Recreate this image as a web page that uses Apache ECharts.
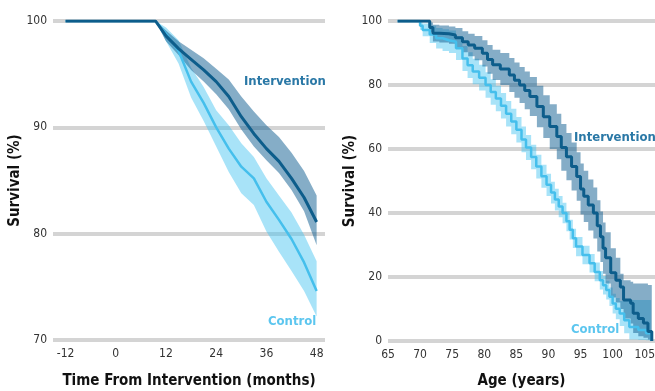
<!DOCTYPE html>
<html><head><meta charset="utf-8">
<script src="https://cdn.jsdelivr.net/npm/echarts@6/dist/echarts.min.js"></script>
<style>html,body{margin:0;padding:0;background:#fff}#c{width:655px;height:391px}</style>
</head><body><div id="c"></div>
<script>
// ---------- Left panel: time from intervention (months) ----------
var leftMonths = [-12, 0, 9.5, 12, 15, 18, 21, 24, 27, 30, 33, 36, 39, 42, 45, 48];
var leftInt    = [100, 100, 100, 98.6, 97.4, 96.4, 95.4, 94.3, 92.9, 91.0, 89.4, 88.0, 86.8, 85.2, 83.4, 81.1];
var leftIntLo  = [100, 100, 100, 98.1, 96.8, 95.4, 94.3, 93.1, 91.7, 89.8, 88.2, 86.9, 85.7, 84.1, 82.1, 78.9];
var leftIntHi  = [100, 100, 100, 99.1, 98.1, 97.3, 96.5, 95.5, 94.5, 92.9, 91.5, 90.2, 89.1, 87.6, 85.9, 83.6];
var leftCtl    = [100, 100, 100, 98.8, 97.2, 94.3, 92.3, 90.0, 88.0, 86.3, 85.2, 83.0, 81.3, 79.5, 77.3, 74.6];
var leftCtlLo  = [100, 100, 100, 98.1, 96.0, 92.8, 90.6, 88.2, 85.8, 83.8, 82.7, 80.2, 78.3, 76.5, 74.6, 72.2];
var leftCtlHi  = [100, 100, 100, 99.4, 98.2, 95.6, 93.8, 91.6, 90.2, 88.5, 87.2, 85.2, 83.6, 82.0, 79.9, 77.4];
var leftXTicks = [-12, 0, 12, 24, 36, 48];

// ---------- Right panel: age (years) ----------
var ageInt   = [66.5, 71, 71.5, 72, 73, 74.5, 75.5, 76.6, 77.5, 78.5, 79.7, 80.5, 81.3, 82.5, 83.9, 84.7, 85.5, 86.3, 87.1, 88.2, 89.2, 90.2, 91.3, 92, 92.8, 93.6, 94.4, 95, 95.5, 96.2, 97, 97.6, 98.1, 98.5, 98.9, 99.7, 100.5, 101.2, 101.7, 102.8, 103.2, 104, 104.8, 105.5, 106.1];
var survInt  = [100, 100, 98, 96.2, 96, 95.6, 94.8, 93.5, 92.5, 91.5, 89.9, 88, 86.3, 85, 83.1, 81.5, 80, 78.3, 76.4, 73.3, 70.1, 67, 63.9, 60.5, 57.6, 54.5, 51.4, 47.5, 45.2, 42.5, 40, 36, 32.6, 29, 26, 21.3, 19, 16.9, 12.8, 11.8, 8.7, 7, 5.6, 3, 0];
var survIntLo = [100, 100, 96.5, 93.6, 93.3, 92.9, 91.8, 90.2, 89, 87.7, 85.8, 83.5, 81.6, 80, 77.8, 76, 74.4, 72.4, 70.3, 66.8, 63.4, 60, 56.8, 53.2, 50.2, 47, 43.8, 39.5, 37.2, 34.5, 32, 28, 24.7, 21, 18, 13.6, 12, 10, 7, 5.5, 2.5, 1.5, 1, 0.5, 0];
var survIntHi = [100, 100, 99.5, 98.8, 98.6, 98.3, 97.8, 96.8, 96, 95.3, 94, 92.5, 91, 90, 88.4, 87, 85.6, 84.2, 82.5, 79.8, 76.8, 74, 71, 67.8, 65, 62, 59, 55.5, 53.2, 50.5, 48, 44, 40.5, 37, 34, 29, 26, 21, 19, 18.5, 18, 18, 18, 17.5, 0];

var ageCtl   = [66.5, 69.6, 70, 70.4, 71.5, 72.5, 73.5, 74.5, 75.6, 76.6, 77.4, 78.2, 79.2, 80.2, 81, 81.8, 82.6, 83.4, 84.2, 85, 85.8, 86.5, 87.3, 88.1, 88.9, 89.7, 90.4, 91, 91.6, 92.2, 92.8, 93.3, 93.8, 94.3, 95.3, 96.4, 97.2, 98, 98.5, 99, 99.5, 100, 100.5, 101.1, 101.8, 102.6, 104, 105.2, 106];
var survCtl  = [100, 100, 98.5, 97.2, 95.8, 94.6, 94.0, 93.5, 91.5, 88.3, 86.2, 84.2, 82.3, 80.0, 77.8, 75.8, 73.5, 71.0, 68.6, 66, 63, 60.5, 57.5, 54.5, 51.5, 48.8, 46.4, 44.2, 42, 40, 37.4, 34.8, 32.1, 29.5, 26.9, 24.3, 21.6, 19, 17.4, 15.9, 13.8, 11.7, 10.1, 8.6, 6.5, 4.4, 3.4, 2.4, 0];
var survCtlLo = [100, 100, 97.3, 95.2, 93.1, 91.4, 90.6, 90.0, 87.8, 84.4, 82.2, 80.2, 78.3, 76.0, 73.8, 71.8, 69.5, 67.0, 64.6, 62, 59, 56.6, 53.7, 50.8, 47.9, 45.3, 43.0, 40.8, 38.7, 36.8, 34.3, 31.7, 29.1, 26.5, 24, 21.4, 18.7, 16.1, 14.5, 13, 10.9, 8.6, 6.8, 4.7, 2.4, 0.5, 0.3, 0.2, 0];
var survCtlHi = [100, 100, 99.6, 99.2, 98.5, 97.8, 97.4, 97.0, 95.2, 92.2, 90.2, 88.2, 86.3, 84.0, 81.8, 79.8, 77.5, 75.0, 72.6, 70, 67, 64.4, 61.3, 58.2, 55.1, 52.3, 49.8, 47.6, 45.3, 43.2, 40.5, 37.9, 35.1, 32.5, 29.8, 27.2, 24.5, 21.9, 20.3, 18.8, 16.7, 14.8, 13.4, 12.5, 12.6, 12.8, 12.8, 12.8, 0];
var ageXTicks = [65, 70, 75, 80, 85, 90, 95, 100, 105];

// ---------- styling ----------
var FONT = '"DejaVu Sans Condensed", "DejaVu Sans", sans-serif';
var DARK = '#0d5d8b', LIGHT = '#45bfec';
var DARK_BAND = 'rgba(22,98,148,0.52)', LIGHT_BAND = 'rgba(70,195,240,0.47)';

function pairs(xs, ys) { return xs.map(function (x, i) { return [x, ys[i]]; }); }

// confidence band as one polygon, positioned through the axis scales (api.coord)
function band(xi, yi, xs, lo, hi, color, step) {
  return {
    type: 'custom', xAxisIndex: xi, yAxisIndex: yi, silent: true, z: 1, clip: true,
    data: xs.map(function (x, i) { return [x, lo[i], hi[i]]; }),
    encode: { x: 0, y: [1, 2] },
    renderItem: function (params, api) {
      if (params.dataIndex !== 0) return null;
      var n = xs.length, top = [], bot = [];
      for (var i = 0; i < n; i++) {
        if (step && i > 0) {
          top.push(api.coord([xs[i], hi[i - 1]]));
          bot.push(api.coord([xs[i], lo[i - 1]]));
        }
        top.push(api.coord([xs[i], hi[i]]));
        bot.push(api.coord([xs[i], lo[i]]));
      }
      var pts = top.concat(bot.reverse());
      return { type: 'polygon', shape: { points: pts }, style: { fill: color } };
    }
  };
}
function line(xi, yi, xs, ys, color, w, step, z) {
  return { type: 'line', xAxisIndex: xi, yAxisIndex: yi, step: step, data: pairs(xs, ys),
    symbol: 'none', lineStyle: { color: color, width: w }, z: z };
}

var axisLabel = { color: '#333', fontSize: 12, fontFamily: FONT };
var splitLine = { show: true, lineStyle: { color: '#d4d4d4', width: 4 } };

var series = [
  band(0, 0, leftMonths, leftCtlLo, leftCtlHi, LIGHT_BAND, false),
  band(0, 0, leftMonths, leftIntLo, leftIntHi, DARK_BAND, false),
  line(0, 0, leftMonths, leftCtl, LIGHT, 2.5, false, 3),
  line(0, 0, leftMonths, leftInt, DARK, 3, false, 4),
  band(1, 1, ageCtl, survCtlLo, survCtlHi, LIGHT_BAND, true),
  band(1, 1, ageInt, survIntLo, survIntHi, DARK_BAND, true),
  line(1, 1, ageCtl, survCtl, LIGHT, 2.5, 'end', 3),
  line(1, 1, ageInt, survInt, DARK, 3, 'end', 4)
];

var chart = echarts.init(document.getElementById('c'), null, { renderer: 'canvas' });
chart.setOption({
  animation: false,
  backgroundColor: '#fff',
  textStyle: { fontFamily: FONT },
  grid: [
    { left: 53, top: 21, width: 272, height: 319, outerBoundsMode: 'none', containLabel: false },
    { left: 388, top: 21, width: 267, height: 320, outerBoundsMode: 'none', containLabel: false }
  ],
  xAxis: [
    { type: 'value', gridIndex: 0, min: -15, max: 50,
      axisLine: { show: false }, axisTick: { show: false }, splitLine: { show: false },
      axisLabel: Object.assign({ customValues: leftXTicks, margin: 8 }, axisLabel),
      name: 'Time From Intervention (months)', nameLocation: 'middle', nameGap: 34,
      nameTextStyle: { color: '#111', fontSize: 15, fontWeight: 'bold', fontFamily: FONT } },
    { type: 'value', gridIndex: 1, min: 65, max: 106.6,
      axisLine: { show: false }, axisTick: { show: false }, splitLine: { show: false },
      axisLabel: Object.assign({ customValues: ageXTicks, margin: 8 }, axisLabel),
      name: 'Age (years)', nameLocation: 'middle', nameGap: 33,
      nameTextStyle: { color: '#111', fontSize: 15, fontWeight: 'bold', fontFamily: FONT } }
  ],
  yAxis: [
    { type: 'value', gridIndex: 0, min: 70, max: 100, interval: 10,
      axisLine: { show: false }, axisTick: { show: false }, splitLine: splitLine,
      axisLabel: Object.assign({ margin: 6 }, axisLabel),
      name: 'Survival (%)', nameLocation: 'middle', nameGap: 28, nameRotate: 90,
      nameTextStyle: { color: '#111', fontSize: 15, fontWeight: 'bold', fontFamily: FONT } },
    { type: 'value', gridIndex: 1, min: 0, max: 100, interval: 20,
      axisLine: { show: false }, axisTick: { show: false }, splitLine: splitLine,
      axisLabel: Object.assign({ margin: 6 }, axisLabel),
      name: 'Survival (%)', nameLocation: 'middle', nameGap: 29, nameRotate: 90,
      nameTextStyle: { color: '#111', fontSize: 15, fontWeight: 'bold', fontFamily: FONT } }
  ],
  graphic: [
    { type: 'text', left: 244, top: 75, z: 10, style: { text: 'Intervention', fill: '#2a78a6', font: 'bold 13px ' + FONT } },
    { type: 'text', left: 268, top: 315, z: 10, style: { text: 'Control', fill: '#5cc6ef', font: 'bold 13px ' + FONT } },
    { type: 'text', left: 574, top: 131, z: 10, style: { text: 'Intervention', fill: '#2a78a6', font: 'bold 13px ' + FONT } },
    { type: 'text', left: 571, top: 323, z: 10, style: { text: 'Control', fill: '#5cc6ef', font: 'bold 13px ' + FONT } }
  ],
  series: series
});
</script></body></html>
